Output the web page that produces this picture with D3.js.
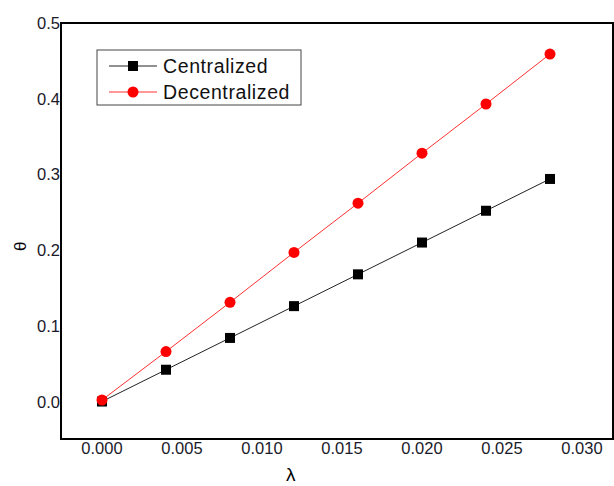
<!DOCTYPE html>
<html>
<head>
<meta charset="utf-8">
<script src="https://cdn.jsdelivr.net/npm/d3@7"></script>
<style>
  body { margin: 0; background: #fff; }
  svg { display: block; font-family: Arial, "Liberation Sans", sans-serif; }
</style>
</head>
<body>
<div id="chart"></div>
<script>
// data
var lambdaValues = [0, 0.004, 0.008, 0.012, 0.016, 0.020, 0.024, 0.028];
var centralized = [0, 0.042, 0.084, 0.126, 0.168, 0.210, 0.252, 0.294];
var decentralized = [0.002, 0.066, 0.131, 0.197, 0.262, 0.328, 0.393, 0.459];
var xTicks = [0, 0.005, 0.010, 0.015, 0.020, 0.025, 0.030];
var yTicks = [0, 0.1, 0.2, 0.3, 0.4, 0.5];
var seriesNames = ["Centralized", "Decentralized"];

var width = 614, height = 486;
var plot = { left: 61, right: 613, top: 23, bottom: 439 };

var svg = d3.select("#chart")
    .append("svg")
    .attr("width", width)
    .attr("height", height);

var x = d3.scaleLinear()
    .domain([-0.0025625, 0.0319375])
    .range([plot.left, plot.right]);

var y = d3.scaleLinear()
    .domain([-0.0495, 0.5])
    .range([plot.bottom, plot.top]);

// frame
svg.append("rect")
    .attr("x", plot.left)
    .attr("y", plot.top)
    .attr("width", plot.right - plot.left)
    .attr("height", plot.bottom - plot.top)
    .attr("fill", "none")
    .attr("stroke", "#000")
    .attr("stroke-width", 2);

// tick labels (no tick marks in the reference)
svg.selectAll(".xlab")
    .data(xTicks)
    .enter()
    .append("text")
    .attr("x", d => x(d))
    .attr("y", plot.bottom + 15)
    .attr("text-anchor", "middle")
    .style("font-size", "16.5px")
    .style("fill", "#1a1a2a")
    .text(d => d3.format(".3f")(d));

svg.selectAll(".ylab")
    .data(yTicks)
    .enter()
    .append("text")
    .attr("x", plot.left - 1)
    .attr("y", d => y(d) + 6)
    .attr("text-anchor", "end")
    .style("font-size", "16.5px")
    .style("fill", "#1a1a2a")
    .text(d => d3.format(".1f")(d));

// axis titles
svg.append("text")
    .attr("x", x(0.0118))
    .attr("y", 481)
    .attr("text-anchor", "middle")
    .style("font-size", "19px")
    .text("λ");

svg.append("text")
    .attr("transform", "translate(26," + y(0.205) + ")rotate(-90)")
    .attr("text-anchor", "middle")
    .style("font-size", "17px")
    .text("θ");

var line = d3.line()
    .x((d, i) => x(lambdaValues[i]))
    .y(d => y(d));

// centralized
svg.append("path")
    .datum(centralized)
    .attr("d", line)
    .attr("fill", "none")
    .attr("stroke", "#222")
    .attr("stroke-width", 1);

svg.selectAll(".sq")
    .data(centralized)
    .enter()
    .append("rect")
    .attr("x", (d, i) => x(lambdaValues[i]) - 5)
    .attr("y", d => y(d) - 5)
    .attr("width", 10)
    .attr("height", 10)
    .attr("fill", "#000");

// decentralized
svg.append("path")
    .datum(decentralized)
    .attr("d", line)
    .attr("fill", "none")
    .attr("stroke", "#ff3030")
    .attr("stroke-width", 1);

svg.selectAll(".dot")
    .data(decentralized)
    .enter()
    .append("circle")
    .attr("cx", (d, i) => x(lambdaValues[i]))
    .attr("cy", d => y(d))
    .attr("r", 5.5)
    .attr("fill", "#ff0000");

// legend
var legend = svg.append("g").attr("transform", "translate(97,50)");
legend.append("rect")
    .attr("width", 204)
    .attr("height", 55)
    .attr("fill", "#fff")
    .attr("stroke", "#444")
    .attr("stroke-width", 1);

seriesNames.forEach(function(name, i) {
    var ly = 16 + i * 26;
    var col = i === 0 ? "#222" : "#ff3030";
    legend.append("line")
        .attr("x1", 12).attr("x2", 60)
        .attr("y1", ly).attr("y2", ly)
        .attr("stroke", col)
        .attr("stroke-width", 1);
    if (i === 0) {
        legend.append("rect")
            .attr("x", 31).attr("y", ly - 5)
            .attr("width", 10).attr("height", 10)
            .attr("fill", "#000");
    } else {
        legend.append("circle")
            .attr("cx", 36).attr("cy", ly)
            .attr("r", 5.5)
            .attr("fill", "#ff0000");
    }
    legend.append("text")
        .attr("x", 66)
        .attr("y", ly + 7)
        .style("font-size", "19.5px")
        .style("letter-spacing", "0.6px")
        .style("fill", "#111")
        .text(name);
});
</script>
</body>
</html>
